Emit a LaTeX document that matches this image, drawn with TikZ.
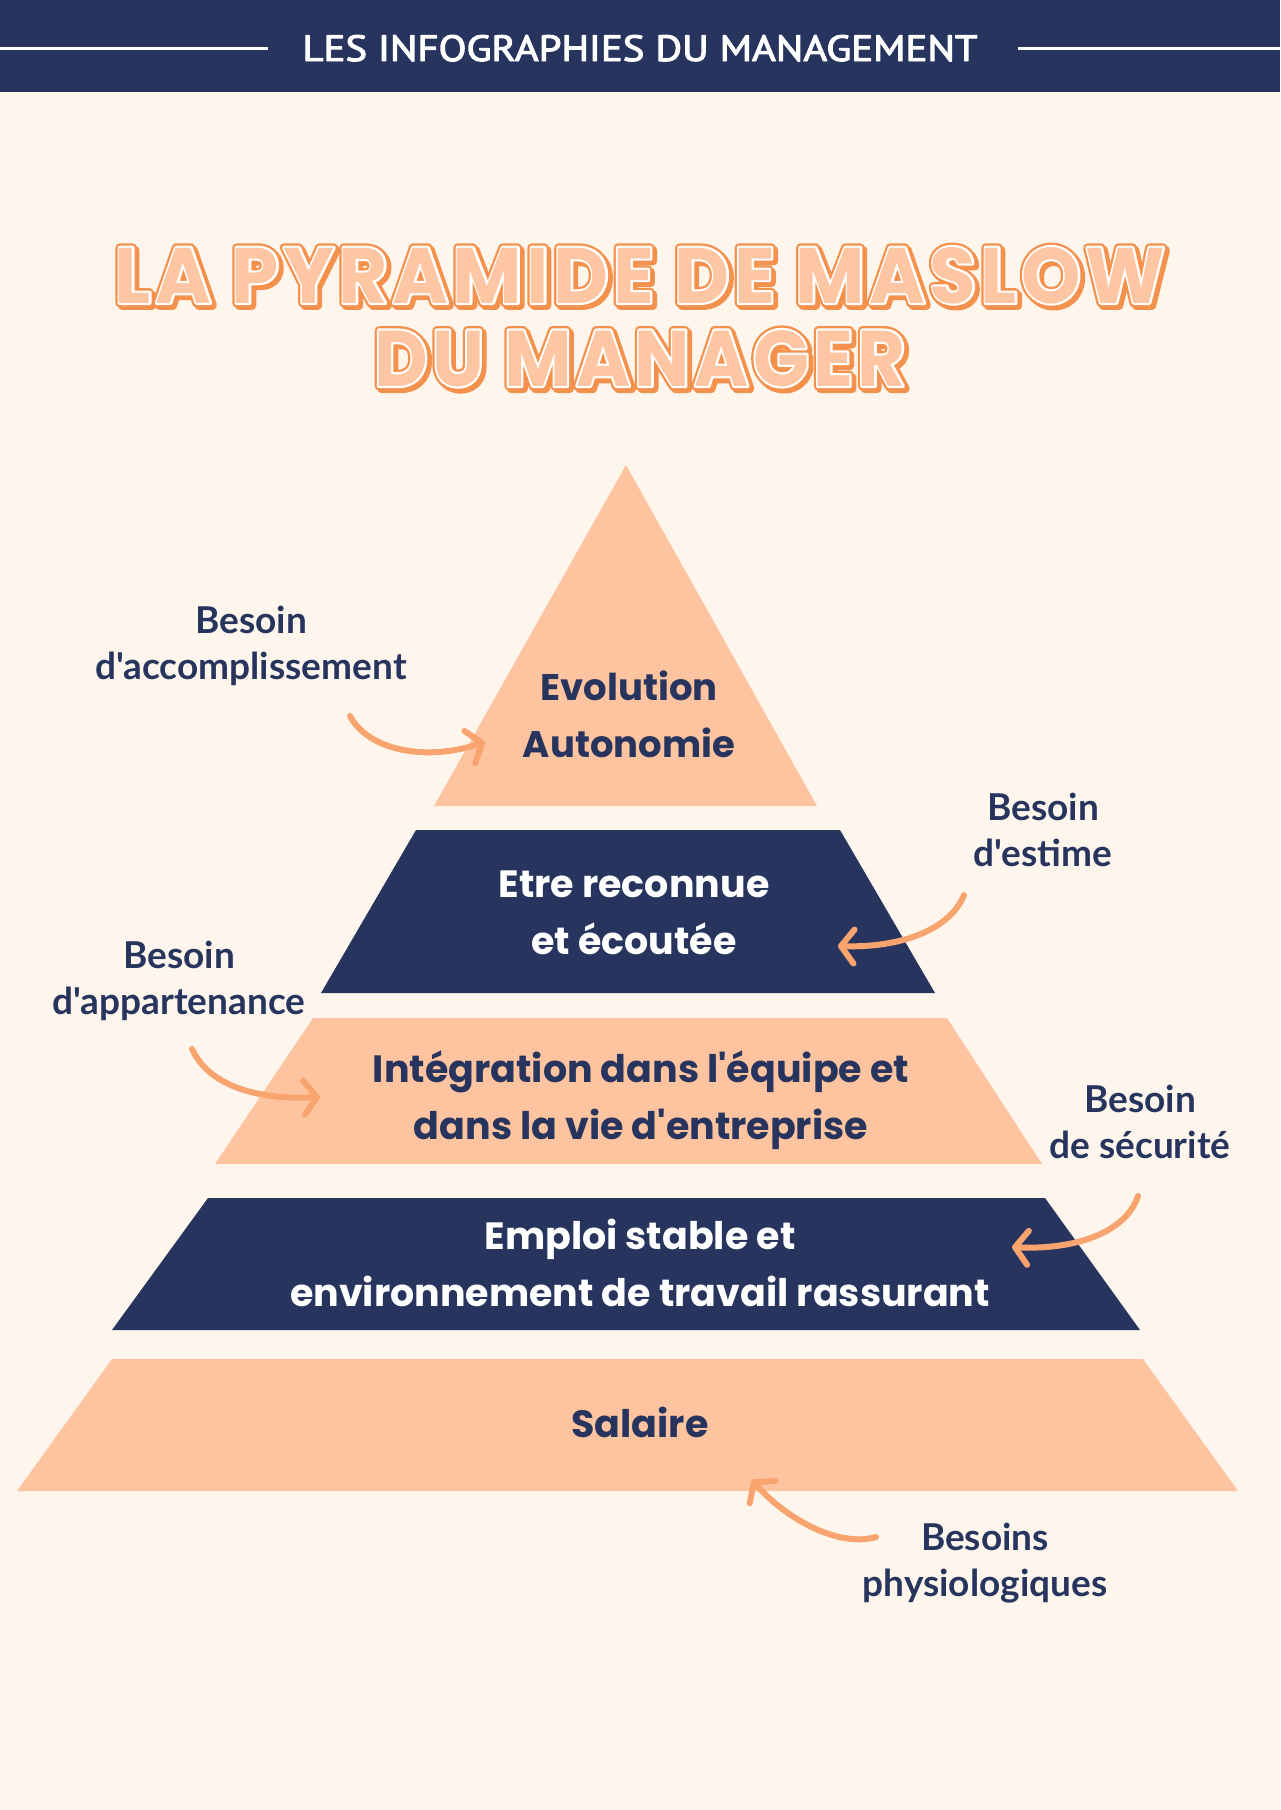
\documentclass[tikz,border=0pt]{standalone}
\usepackage{fontspec}
\setmainfont{Lato}
\newfontfamily\pyrfont{Poppins}
\newfontfamily\labfont{Lato}
\newfontfamily\headfont{PT Sans}
\newfontfamily\titlefont{Poppins}[LetterSpace=6]
\usetikzlibrary{arrows.meta,calc}
\definecolor{bgc}{HTML}{FEF6EC}
\definecolor{navy}{HTML}{26345E}
\definecolor{peach}{HTML}{FEC4A0}
\definecolor{arrowc}{HTML}{F9A46E}
\definecolor{toutline}{HTML}{F4914C}
\definecolor{tfill}{HTML}{FEC6A2}
\newcommand\tlineA{\resizebox{1050pt}{56pt}{\titlefont\bfseries LA PYRAMIDE DE MASLOW}}
\newcommand\tlineB{\resizebox{531pt}{56pt}{\titlefont\bfseries DU MANAGER}}
\newcommand\headline{\resizebox{675pt}{26pt}{\headfont LES INFOGRAPHIES DU MANAGEMENT}}
\newcommand\trmode[2]{\special{pdf:literal direct #1 Tr #2 w 1 j 1 J}}
\newlength\twA
\newlength\twB
\newlength\twH
\tikzset{
  tnode/.style={inner sep=0pt, anchor=base},
  pyrtext/.style={align=center, inner sep=0pt, font=\pyrfont\bfseries\fontsize{38}{57}\selectfont},
  labtext/.style={align=center, inner sep=0pt, text=navy, font=\labfont\bfseries\fontsize{37}{46}\selectfont},
  needarrow/.style={draw=arrowc, line width=6pt, line cap=round, -{Straight Barb[length=13pt,width=34pt,round]}}
}
\begin{document}
\settowidth\twA{\titlefont\bfseries LA PYRAMIDE DE MASLOW}%
\settowidth\twB{\titlefont\bfseries DU MANAGER}%
\settowidth\twH{\headfont LES INFOGRAPHIES DU MANAGEMENT}%
\pgfmathsetmacro\scA{1050/\twA}%
\pgfmathsetmacro\scB{531/\twB}%
\pgfmathsetmacro\scH{675/\twH}%
\pgfmathsetmacro\wAo{8.5/\scA}%
\pgfmathsetmacro\wAw{4/\scA}%
\pgfmathsetmacro\wBo{8.5/\scB}%
\pgfmathsetmacro\wBw{4/\scB}%
\pgfmathsetmacro\wH{1.1/\scH}%
\begin{tikzpicture}[x=1pt,y=-1pt]
\useasboundingbox (0,0) rectangle (1280,1810);
\fill[bgc] (0,0) rectangle (1280,1810);
% header
\fill[navy] (0,0) rectangle (1280,92);
\draw[white, line width=3pt] (0,48) -- (268,48);
\draw[white, line width=3pt] (1018,48) -- (1280,48);
\node[tnode, text=white] (hdr) at (640,61) {\trmode{2}{\wH}\headline\trmode{0}{1}};
% title: shadow, orange outline, white inner line, peach fill
\node[tnode, text=toutline] (t1s) at (642.5,305.5) {\trmode{2}{\wAo}\tlineA\trmode{0}{1}};
\node[tnode, text=toutline] (t2s) at (642.5,388.5) {\trmode{2}{\wBo}\tlineB\trmode{0}{1}};
\node[tnode, text=toutline] (t1o) at (640,303) {\trmode{2}{\wAo}\tlineA\trmode{0}{1}};
\node[tnode, text=toutline] (t2o) at (640,386) {\trmode{2}{\wBo}\tlineB\trmode{0}{1}};
\node[tnode, text=white] (t1w) at (640,303) {\trmode{2}{\wAw}\tlineA\trmode{0}{1}};
\node[tnode, text=white] (t2w) at (640,386) {\trmode{2}{\wBw}\tlineB\trmode{0}{1}};
\node[tnode, text=tfill] (title1) at (640,303) {\tlineA};
\node[tnode, text=tfill] (title2) at (640,386) {\tlineB};
% pyramid
\fill[peach] (626,465) -- (817,806) -- (434,806) -- cycle;
\fill[navy] (416,830) -- (840,830) -- (935,993) -- (321,993) -- cycle;
\fill[peach] (313,1018) -- (947,1018) -- (1042,1164) -- (215,1164) -- cycle;
\fill[navy] (208,1198) -- (1045,1198) -- (1140,1330) -- (112,1330) -- cycle;
\fill[peach] (112,1359) -- (1143,1359) -- (1238,1491) -- (17,1491) -- cycle;
% pyramid texts
\node[pyrtext, text=navy, font=\pyrfont\bfseries\fontsize{37}{57}\selectfont] (p1) at (629,714) {Evolution\\Autonomie};
\node[pyrtext, text=white] (p2) at (634,913) {Etre reconnue\\et écoutée};
\node[pyrtext, text=navy] (p3) at (641,1100) {Intégration dans l'équipe et\\dans la vie d'entreprise};
\node[pyrtext, text=white] (p4) at (640,1263) {Emploi stable et\\environnement de travail rassurant};
\node[pyrtext, text=navy] (p5) at (640,1422) {Salaire};
% labels
\node[labtext] (l1) at (251,646) {Besoin\\d'accomplissement};
\node[labtext] (l2) at (1043,830) {Besoin\\d'estime};
\node[labtext] (l3) at (179,981) {Besoin\\d'appartenance};
\node[labtext] (l4) at (1140,1122) {Besoin\\de sécurité};
\node[labtext] (l5) at (985,1563) {Besoins\\physiologiques};
% arrows
\coordinate (a1s) at (350,716); \coordinate (a1t) at (485,742);
\coordinate (a2s) at (964,895); \coordinate (a2t) at (838,946);
\coordinate (a3s) at (192,1049); \coordinate (a3t) at (320,1097);
\coordinate (a4s) at (1138,1196); \coordinate (a4t) at (1012,1247);
\coordinate (a5s) at (876,1537); \coordinate (a5t) at (752,1480);
\draw[needarrow] (a1s) .. controls (368,750) and (425,762) .. (a1t);
\draw[needarrow] (a2s) .. controls (950,930) and (900,948) .. (a2t);
\draw[needarrow] (a3s) .. controls (210,1088) and (262,1100) .. (a3t);
\draw[needarrow] (a4s) .. controls (1125,1235) and (1070,1250) .. (a4t);
\draw[needarrow] (a5s) .. controls (838,1548) and (785,1518) .. (a5t);
\end{tikzpicture}
\end{document}
